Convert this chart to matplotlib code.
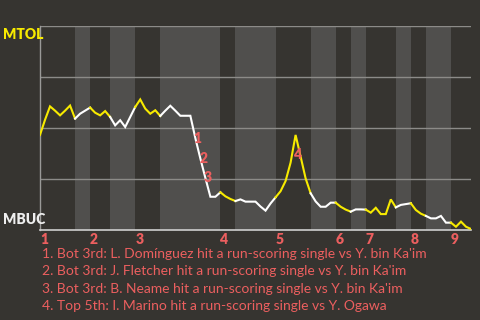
import matplotlib
matplotlib.use("Agg")
import matplotlib.pyplot as plt

# win probability for MTOL after each play (0 = MBUC, 1 = MTOL)
wp = [0.466, 0.54, 0.606, 0.585, 0.562, 0.585, 0.61, 0.546, 0.57, 0.585,
      0.60, 0.575, 0.562, 0.583, 0.554, 0.513, 0.538, 0.505, 0.554, 0.603,
      0.64, 0.595, 0.57, 0.587, 0.559, 0.585, 0.609, 0.585, 0.56, 0.56,
      0.56, 0.45, 0.35, 0.255, 0.163, 0.163, 0.185, 0.165, 0.152, 0.142,
      0.15, 0.139, 0.139, 0.139, 0.115, 0.095, 0.13, 0.16, 0.19, 0.24,
      0.33, 0.466, 0.36, 0.253, 0.18, 0.14, 0.114, 0.114, 0.134, 0.134,
      0.114, 0.10, 0.09, 0.101, 0.101, 0.10, 0.085, 0.109, 0.078, 0.078,
      0.15, 0.111, 0.123, 0.127, 0.131, 0.098, 0.08, 0.069, 0.057, 0.057,
      0.069, 0.036, 0.036, 0.016, 0.041, 0.016, 0.005]
plays = list(range(len(wp)))

# play index where each half inning starts (top 1, bot 1, top 2, ...)
half_starts = [0, 7, 10, 14, 19, 24, 36, 39, 47, 54, 59, 62, 65, 71, 74, 77, 82]
n_plays = 86
innings = ["1", "2", "3", "4", "5", "6", "7", "8", "9"]

event_play = [31, 32, 33, 51]
event_text = ["1. Bot 3rd: L. Domínguez hit a run-scoring single vs Y. bin Ka'im",
              "2. Bot 3rd: J. Fletcher hit a run-scoring single vs Y. bin Ka'im",
              "3. Bot 3rd: B. Neame hit a run-scoring single vs Y. bin Ka'im",
              "4. Top 5th: I. Marino hit a run-scoring single vs Y. Ogawa"]

bg = "#363430"
band = "#504f4d"
red = "#ec5f5f"
yellow = "#f7ea00"
font = ["Lato", "DejaVu Sans"]

fig = plt.figure(figsize=(4.8, 3.2), dpi=100, facecolor=bg)
ax = fig.add_axes([40/480, 1-230/320, 431/480, 204/320])
ax.set_facecolor(bg)
ax.set_xlim(0, n_plays)
ax.set_ylim(0, 1)

ends = half_starts[1:] + [n_plays]
for k, (s, e) in enumerate(zip(half_starts, ends)):
    if k % 2 == 1:
        ax.axvspan(s, e, color=band, lw=0, zorder=0)

for g in [0.25, 0.5, 0.75, 1.0]:
    ax.axhline(g, color="#8c8b88", lw=1, zorder=1)

# yellow in top halves, white in bottom halves
for k, (s, e) in enumerate(zip(half_starts, ends)):
    c = yellow if k % 2 == 0 else "white"
    ax.plot(plays[s:e+1], wp[s:e+1], color=c, lw=1.5, zorder=3,
            solid_joinstyle="miter")

offs = [(1.5, 0), (2, 0), (2, 0), (2, -14)]
for i, p in enumerate(event_play):
    ax.annotate(str(i + 1), (p, wp[p]), xytext=offs[i], textcoords="offset points",
                ha="center", va="center", color=red, fontsize=10,
                fontweight="heavy", family=font, zorder=4)

for sp in ["top", "right"]:
    ax.spines[sp].set_visible(False)
ax.spines["left"].set_color("#9a9a98")
ax.spines["bottom"].set_color("#cfcfcf")
ax.spines["left"].set_linewidth(1)
ax.spines["bottom"].set_linewidth(1.2)
ax.set_xticks([])
ax.set_yticks([])

for k, lab in enumerate(innings):
    ax.text(half_starts[2 * k], -0.015, lab, ha="left", va="top", color=red,
            fontsize=10, fontweight="heavy", family=font)

fig.text(3/480, 1-28/320, "MTOL", ha="left", va="top", color=yellow,
         fontsize=10, fontweight="heavy", family=font)
fig.text(3/480, 1-226/320, "MBUC", ha="left", va="bottom", color="#eeeeee",
         fontsize=10, fontweight="heavy", family=font)

for i, t in enumerate(event_text):
    fig.text(42/480, 1-(254 + 17.4*i)/320, t, ha="left", va="center",
             color=red, fontsize=10, family=font)

fig.savefig("out.png", dpi=100, facecolor=bg)
